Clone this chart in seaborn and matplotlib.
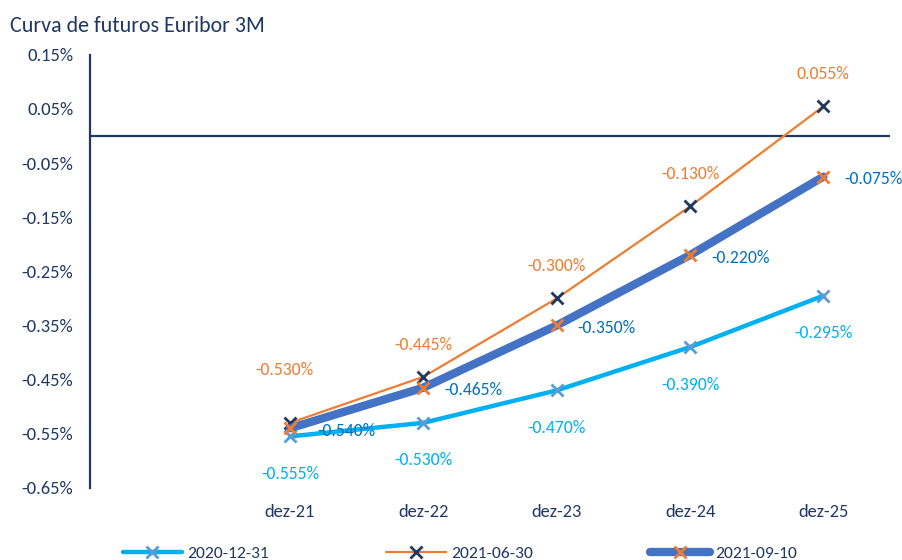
import numpy as np
import pandas as pd
import matplotlib
matplotlib.use("Agg")
import matplotlib.pyplot as plt
import seaborn as sns

months = ["dez-21", "dez-22", "dez-23", "dez-24", "dez-25"]
s_dec20 = [-0.555, -0.530, -0.470, -0.390, -0.295]
s_jun21 = [-0.530, -0.445, -0.300, -0.130, 0.055]
s_sep21 = [-0.540, -0.465, -0.350, -0.220, -0.075]
series_names = ["2020-12-31", "2021-06-30", "2021-09-10"]
yticks = [-0.65, -0.55, -0.45, -0.35, -0.25, -0.15, -0.05, 0.05, 0.15]

navy = "#1F3864"
light_blue = "#00B0F0"
orange = "#ED7D31"
mid_blue = "#4472C4"

sns.set_theme(style="white")
plt.rcParams["font.family"] = ["Carlito", "Liberation Sans", "DejaVu Sans"]

fig = plt.figure(figsize=(9.03, 5.60), dpi=100)
ax = fig.add_axes([0.0997, 0.129, 0.886, 0.773])

ax.axhline(0, color=navy, lw=1.6, zorder=1)

sns.lineplot(x=months, y=s_dec20, ax=ax, color=light_blue, lw=3.2, marker="x",
             markersize=9, markeredgewidth=2, markeredgecolor="#5B9BD5",
             label=series_names[0], zorder=3)
sns.lineplot(x=months, y=s_jun21, ax=ax, color=orange, lw=1.6, marker="x",
             markersize=9, markeredgewidth=2, markeredgecolor=navy,
             label=series_names[1], zorder=4)
sns.lineplot(x=months, y=s_sep21, ax=ax, color=mid_blue, lw=6, marker="x",
             markersize=9, markeredgewidth=2, markeredgecolor=orange,
             label=series_names[2], zorder=5, solid_capstyle="round")

fs = 12.7
for i, v in enumerate(s_dec20):
    ax.annotate(f"{v:.3f}%", (i, v), xytext=(0, -27), textcoords="offset points",
                ha="center", va="center", color=light_blue, fontsize=fs)
for i, v in enumerate(s_jun21):
    dy = 38 if i == 0 else 23
    dx = -4 if i == 0 else 0
    ax.annotate(f"{v:.3f}%", (i, v), xytext=(dx, dy), textcoords="offset points",
                ha="center", va="center", color=orange, fontsize=fs)
for i, v in enumerate(s_sep21):
    dx = 20 if i == 0 else 15
    ax.annotate(f"{v:.3f}%", (i, v), xytext=(dx, -2), textcoords="offset points",
                ha="left", va="center", color="#0070C0", fontsize=fs)

ax.set_xlim(-1.5, 4.5)
ax.set_ylim(-0.65, 0.15)
ax.set_yticks(yticks)
ax.set_yticklabels([f"{v:.2f}%" for v in yticks])
ax.tick_params(axis="both", length=0, colors=navy, labelsize=13.3)
ax.tick_params(axis="y", pad=12)
ax.tick_params(axis="x", pad=12)
for lab in ax.get_yticklabels() + ax.get_xticklabels():
    lab.set_color(navy)

for side in ["top", "right", "bottom"]:
    ax.spines[side].set_visible(False)
ax.spines["left"].set_color(navy)
ax.spines["left"].set_linewidth(1.6)
ax.set_xlabel("")
ax.set_ylabel("")

fig.text(0.011, 0.954, "Curva de futuros Euribor 3M", color=navy, fontsize=15.8,
         ha="left", va="center")

handles, labels = ax.get_legend_handles_labels()
ax.get_legend().remove()
leg = fig.legend(handles, labels, loc="center", bbox_to_anchor=(0.509, 0.012),
                 ncol=3, frameon=False, fontsize=12.6, columnspacing=6.7,
                 handlelength=3.4, handletextpad=0.3, numpoints=1)
for t in leg.get_texts():
    t.set_color(navy)

fig.savefig("out.png", dpi=100)
